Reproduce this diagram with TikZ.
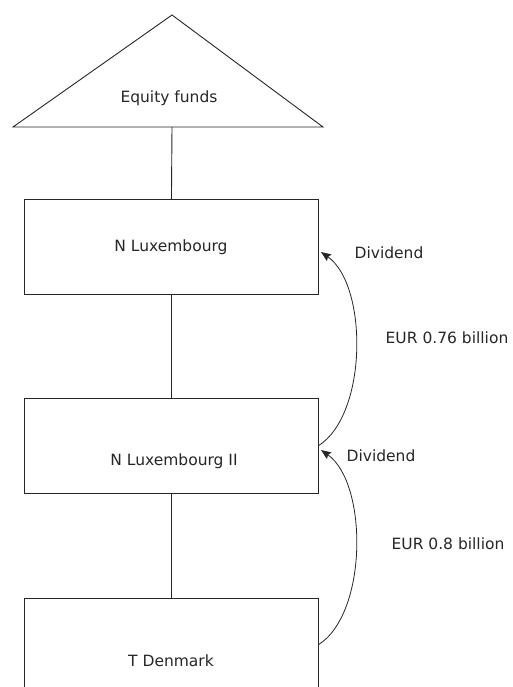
\documentclass[tikz,border=0pt]{standalone}
\usepackage{fontspec}
\setmainfont{DejaVu Sans}
\usetikzlibrary{arrows.meta}
\begin{document}
\begin{tikzpicture}[x=1pt,y=-1pt,
  every node/.style={font=\fontsize{15.5}{17}\selectfont, text=black!85, inner sep=0pt},
  entity/.style={draw=black!85, line width=0.9pt, minimum width=294pt, minimum height=95pt, anchor=north west},
  link/.style={draw=black!85, line width=0.9pt},
  flow/.style={draw=black!85, line width=0.8pt, -{Stealth[length=10pt,width=8pt,inset=1.5pt]}}]
\useasboundingbox (0,0) rectangle (512,687);
% triangle
\coordinate (apex) at (172,15);
\coordinate (bl) at (13,127);
\coordinate (br) at (323,127);
\coordinate (tb) at (172,127);
\draw[link, line join=miter] (bl) -- (apex) -- (br) -- cycle;
\node (eq) at (169,98) {Equity funds};
% boxes
\node[entity] (b1) at (24,199) {};
\node[entity] (b2) at (24,398) {};
\node[entity] (b3) at (24,598) {};
\node (t1) at (171,247) {N Luxembourg};
\node (t2) at (174,461) {N Luxembourg II};
\node (t3) at (171,661) {T Denmark};
% connectors
\draw[link] (tb) -- (b1.north);
\draw[link] (b1.south) -- (b2.north);
\draw[link] (b2.south) -- (b3.north);
% dividend arrows
\coordinate (s1) at (318,446);
\coordinate (e1) at (321,252);
\coordinate (s2) at (318,645);
\coordinate (e2) at (321,450);
\draw[flow] (s1) .. controls (368,415) and (368,285) .. (e1);
\draw[flow] (s2) .. controls (368,614) and (368,483) .. (e2);
\node (d1) at (389,253) {Dividend};
\node (v1) at (447,338) {EUR 0.76 billion};
\node (d2) at (381,456) {Dividend};
\node (v2) at (448,544) {EUR 0.8 billion};
\end{tikzpicture}
\end{document}
